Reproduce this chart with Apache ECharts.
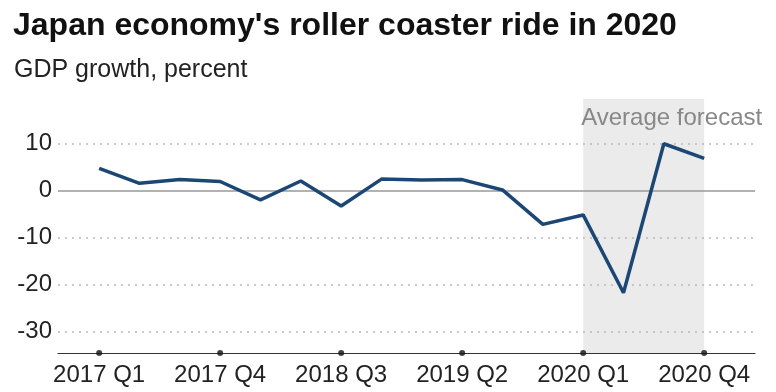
<!DOCTYPE html>
<html><head><meta charset="utf-8">
<script src="https://cdn.jsdelivr.net/npm/echarts@6/dist/echarts.min.js"></script>
<style>html,body{margin:0;padding:0;background:#fff}#c{width:776px;height:392px}</style>
</head><body><div id="c"></div>
<script>
var quarters = ['2017 Q1','2017 Q2','2017 Q3','2017 Q4','2018 Q1','2018 Q2','2018 Q3','2018 Q4',
  '2019 Q1','2019 Q2','2019 Q3','2019 Q4','2020 Q1','2020 Q2','2020 Q3','2020 Q4'];
var gdp = [4.7, 1.5, 2.3, 1.9, -2.0, 2.0, -3.3, 2.4, 2.2, 2.3, 0.1, -7.2, -5.2, -21.7, 9.9, 6.8];
var labelIdx = [0, 3, 6, 9, 12, 15];
var yTicks = [-30, -20, -10, 0, 10];
var forecastStart = '2020 Q1', forecastEnd = '2020 Q4';
var forecastLabel = 'Average forecast';

var FONT = '"Liberation Sans", Arial, sans-serif';
var chart = echarts.init(document.getElementById('c'));
var gridVals = yTicks.filter(function(v){return v!==0;});
chart.setOption({
  animation: false,
  textStyle: {fontFamily: FONT},
  title: [
    {text: "Japan economy's roller coaster ride in 2020", left: 8, top: 5,
     textStyle: {fontFamily: FONT, fontSize: 32, fontWeight: 'bold', color: '#111'}},
    {text: 'GDP growth, percent', left: 9, top: 53,
     textStyle: {fontFamily: FONT, fontSize: 25, fontWeight: 'normal', color: '#222'}}
  ],
  grid: {left: 58, right: 21, top: 99, bottom: 39},
  xAxis: {
    type: 'value', min: -1.02, max: 16.26,
    splitLine: {show: false},
    axisLine: {show: true, onZero: false, lineStyle: {color: '#333', width: 1.2}},
    axisTick: {show: false},
    axisLabel: {customValues: labelIdx, fontSize: 24, color: '#222', margin: 10,
      formatter: function(v){ return quarters[Math.round(v)]; }}
  },
  yAxis: {
    type: 'value', min: -34.5, max: 19.4,
    splitLine: {show: false},
    axisLine: {show: false}, axisTick: {show: false},
    axisLabel: {customValues: yTicks, fontSize: 24, color: '#222', margin: 6}
  },
  series: [
    {
      type: 'line', data: gdp.map(function(v,i){return [i, v];}),
      symbol: 'none', lineStyle: {color: '#1c4775', width: 3.5}, z: 5,
      markArea: {
        silent: true,
        itemStyle: {color: '#ebebeb'},
        label: {show: true, position: 'insideTop', offset: [28, 2], fontSize: 24, color: '#888', fontFamily: FONT},
        data: [[{xAxis: quarters.indexOf(forecastStart), name: forecastLabel}, {xAxis: quarters.indexOf(forecastEnd)}]]
      },
      markLine: {
        silent: true, symbol: 'none', label: {show: false},
        data: gridVals.map(function(v){return {yAxis: v, lineStyle: {color: '#bbb', type: [2, 5], width: 1.5}};})
          .concat([{yAxis: 0, lineStyle: {color: '#999', type: 'solid', width: 1.5}}])
      }
    },
    {
      type: 'scatter', data: labelIdx.map(function(i){return [i, -34.5];}),
      symbolSize: 6, itemStyle: {color: '#111'}, z: 6, clip: false
    }
  ]
});
</script></body></html>
